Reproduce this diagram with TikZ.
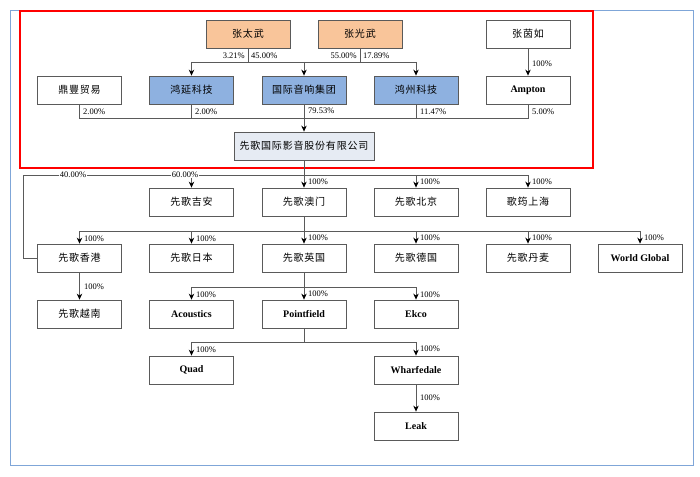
\documentclass[tikz,border=0pt]{standalone}
\usepackage{fontspec}
\setmainfont{Liberation Serif}
\newfontfamily\cjk[LetterSpace=8]{Noto Sans CJK SC}
\usetikzlibrary{arrows.meta}
\definecolor{orangebox}{HTML}{F9C59A}
\definecolor{bluebox}{HTML}{8EB1E0}
\definecolor{mainbox}{HTML}{E6EBF3}
\definecolor{frameblue}{HTML}{7FA6D8}
\definecolor{edge}{HTML}{5A5A5A}
\begin{document}
\begin{tikzpicture}[x=1pt,y=-1pt,
  box/.style={draw=edge, line width=0.8pt, minimum width=84pt, minimum height=28pt, inner sep=0pt, font=\cjk\fontsize{10}{12}\selectfont},
  enbox/.style={box, font=\bfseries\fontsize{10}{12}\selectfont},
  pct/.style={font=\fontsize{8.5}{10}\selectfont, inner sep=1pt},
  conn/.style={draw=edge, line width=0.8pt},
  arr/.style={conn, -{Stealth[length=6pt,width=5.5pt,black]}}]
\useasboundingbox (0,0) rectangle (700,476);
\fill[white] (0,0) rectangle (700,476);
% frames
\draw[frameblue, line width=1pt] (10,11) rectangle (693,465);
\draw[red, line width=2.6pt] (20,11) rectangle (593,168);
% row 0
\node[box, fill=orangebox] (zt) at (248,34) {张太武};
\node[box, fill=orangebox] (zg) at (360,34) {张光武};
\node[box] (zy) at (528,34) {张茵如};
% row 1
\node[box] (dt) at (79.5,90) {鼎豐贸易};
\node[box, fill=bluebox] (hy) at (191.5,90) {鸿延科技};
\node[box, fill=bluebox] (gj) at (304,90) {国际音响集团};
\node[box, fill=bluebox] (hz) at (416,90) {鸿州科技};
\node[enbox] (amp) at (528,90) {Ampton};
% main
\node[box, fill=mainbox, minimum width=140pt] (main) at (304,146) {先歌国际影音股份有限公司};
% row 2
\node[box] (ja) at (191.5,202) {先歌吉安};
\node[box] (am) at (304,202) {先歌澳门};
\node[box] (bj) at (416,202) {先歌北京};
\node[box] (sh) at (528,202) {歌筠上海};
% row 3
\node[box] (hk) at (79.5,258) {先歌香港};
\node[box] (jp) at (191.5,258) {先歌日本};
\node[box] (uk) at (304,258) {先歌英国};
\node[box] (de) at (416,258) {先歌德国};
\node[box] (dk) at (528,258) {先歌丹麦};
\node[enbox] (wg) at (640,258) {World Global};
% row 4
\node[box] (vn) at (79.5,314) {先歌越南};
\node[enbox] (ac) at (191.5,314) {Acoustics};
\node[enbox] (pf) at (304,314) {Pointfield};
\node[enbox] (ek) at (416,314) {Ekco};
% row 5
\node[enbox] (qd) at (191.5,370) {Quad};
\node[enbox] (wf) at (416,370) {Wharfedale};
% row 6
\node[enbox] (lk) at (416,426) {Leak};
% bus coordinates
\coordinate (b0) at (0,62);
\coordinate (b1) at (0,118);
\coordinate (b2) at (0,175);
\coordinate (lc) at (23,175);
\coordinate (b3) at (0,231);
\coordinate (b4) at (0,287);
\coordinate (b5) at (0,342);
% row 0 connectors
\draw[conn] (zt.south) -- (zt.south |- b0);
\draw[conn] (zg.south) -- (zg.south |- b0);
\draw[conn] (hy |- b0) -- (hz |- b0);
\draw[arr] (hy |- b0) -- (hy.north);
\draw[arr] (gj |- b0) -- (gj.north);
\draw[arr] (hz |- b0) -- (hz.north);
\draw[arr] (zy.south) -- (amp.north);
\node[pct, anchor=east] (l1) at (246,56) {3.21\%};
\node[pct, anchor=west] (l2) at (250,56) {45.00\%};
\node[pct, anchor=east] (l3) at (358,56) {55.00\%};
\node[pct, anchor=west] (l4) at (362,56) {17.89\%};
\node[pct, anchor=west] (l5) at (531,64) {100\%};
% row 1 connectors
\draw[conn] (dt.south) -- (dt.south |- b1) -- (amp.south |- b1) -- (amp.south);
\draw[conn] (hy.south) -- (hy.south |- b1);
\draw[conn] (hz.south) -- (hz.south |- b1);
\draw[arr] (gj.south) -- (main.north);
\node[pct, anchor=west] (l6) at (82,112) {2.00\%};
\node[pct, anchor=west] (l7) at (194,112) {2.00\%};
\node[pct, anchor=west] (l8) at (307,111) {79.53\%};
\node[pct, anchor=west] (l9) at (419,112) {11.47\%};
\node[pct, anchor=west] (l10) at (531,112) {5.00\%};
% row 2 connectors
\draw[conn] (lc) -- (sh |- b2);
\draw[conn] (lc) |- (hk.west);
\draw[arr] (main.south) -- (am.north);
\draw[arr] (ja |- b2) -- (ja.north);
\draw[arr] (bj |- b2) -- (bj.north);
\draw[arr] (sh |- b2) -- (sh.north);
\node[pct, fill=white, inner sep=0.5pt] (l11) at (73,175) {40.00\%};
\node[pct, fill=white, inner sep=0.5pt] (l12) at (185,175) {60.00\%};
\node[pct, anchor=west] (l13) at (307,182) {100\%};
\node[pct, anchor=west] (l14) at (419,182) {100\%};
\node[pct, anchor=west] (l15) at (531,182) {100\%};
% row 3 connectors
\draw[conn] (am.south) -- (am.south |- b3);
\draw[conn] (hk |- b3) -- (wg |- b3);
\foreach \n in {hk,jp,uk,de,dk,wg} \draw[arr] (\n |- b3) -- (\n.north);
\node[pct, anchor=west] (l16) at (83,239) {100\%};
\node[pct, anchor=west] (l17) at (195,239) {100\%};
\node[pct, anchor=west] (l18) at (307,238) {100\%};
\node[pct, anchor=west] (l19) at (419,238) {100\%};
\node[pct, anchor=west] (l20) at (531,238) {100\%};
\node[pct, anchor=west] (l21) at (643,238) {100\%};
% row 4 connectors
\draw[arr] (hk.south) -- (vn.north);
\node[pct, anchor=west] (l22) at (83,287) {100\%};
\draw[conn] (uk.south) -- (uk.south |- b4);
\draw[conn] (ac |- b4) -- (ek |- b4);
\foreach \n in {ac,pf,ek} \draw[arr] (\n |- b4) -- (\n.north);
\node[pct, anchor=west] (l23) at (195,295) {100\%};
\node[pct, anchor=west] (l24) at (307,294) {100\%};
\node[pct, anchor=west] (l25) at (419,295) {100\%};
% row 5 connectors
\draw[conn] (pf.south) -- (pf.south |- b5);
\draw[conn] (qd |- b5) -- (wf |- b5);
\foreach \n in {qd,wf} \draw[arr] (\n |- b5) -- (\n.north);
\node[pct, anchor=west] (l26) at (195,350) {100\%};
\node[pct, anchor=west] (l27) at (419,349) {100\%};
% row 6
\draw[arr] (wf.south) -- (lk.north);
\node[pct, anchor=west] (l28) at (419,398) {100\%};
\end{tikzpicture}
\end{document}
